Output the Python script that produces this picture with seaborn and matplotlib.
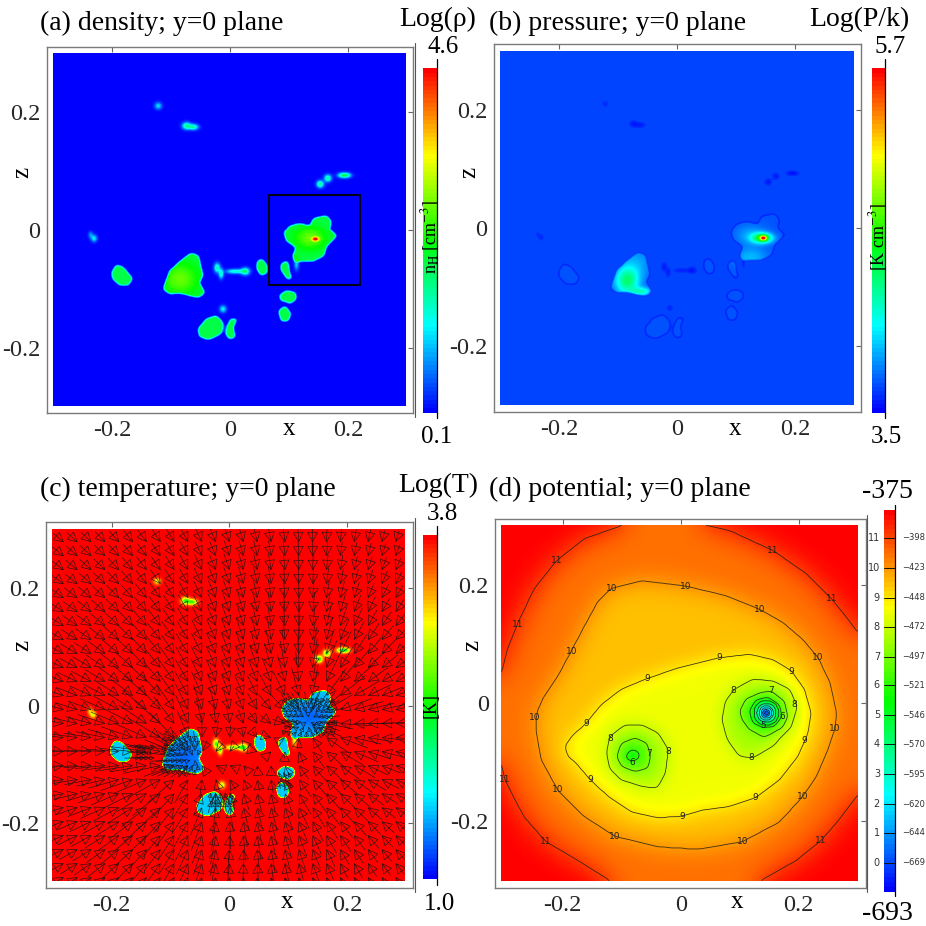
import numpy as np
import matplotlib
matplotlib.use("Agg")
import matplotlib.pyplot as plt
from matplotlib.colors import LinearSegmentedColormap
from matplotlib.lines import Line2D
from matplotlib.path import Path
from matplotlib.patches import Rectangle
import seaborn as sns

sns.set_theme(style="white")
plt.rcParams["font.family"] = ["Liberation Serif", "DejaVu Serif"]
plt.rcParams["mathtext.fontset"] = "stix"

# cloud outlines, (x, z)
main_cloud = [(.092,-.006),(.101,.006),(.118,.011),(.138,.006),(.144,.020),(.166,.024),(.174,.014),(.170,0),
              (.183,-.011),(.166,-.028),(.161,-.045),(.144,-.054),(.121,-.054),(.110,-.057),(.107,-.045),(.113,-.031),(.096,-.020)]
big_cloud = [(-.111,-.096),(-.102,-.071),(-.083,-.054),(-.066,-.041),(-.054,-.045),(-.049,-.068),(-.046,-.079),
             (-.053,-.091),(-.043,-.108),(-.052,-.116),(-.068,-.113),(-.085,-.108),(-.102,-.110),(-.114,-.102)]
left_oval = [(-.201,-.074),(-.193,-.061),(-.182,-.065),(-.166,-.084),(-.173,-.096),(-.187,-.096),(-.199,-.085)]
bottom_cloud = [(-.054,-.170),(-.040,-.153),(-.023,-.147),(-.011,-.161),(-.015,-.178),(-.037,-.188),(-.052,-.182)]
bottom_small = [(-.005,-.167),(.001,-.153),(.012,-.152),(.005,-.167),(.009,-.184),(-.001,-.187),(-.007,-.178)]
mid_a = [(.046,-.057),(.053,-.050),(.063,-.062),(.062,-.076),(.052,-.078),(.046,-.068)]
mid_b = [(.087,-.059),(.098,-.054),(.101,-.074),(.106,-.086),(.097,-.084),(.087,-.069)]
low_a = [(.084,-.113),(.096,-.105),(.111,-.108),(.113,-.119),(.101,-.127),(.096,-.122),(.087,-.122)]
low_b = [(.083,-.139),(.093,-.131),(.104,-.144),(.098,-.157),(.087,-.156)]
clouds = [main_cloud, big_cloud, left_oval, bottom_cloud, bottom_small, mid_a, mid_b, low_a, low_b]

# small knots: x, z, width x, width z, height
knots = [(-.122,.211,.0042,.0042,.22),(-.074,.177,.005,.0042,.36),(-.062,.175,.0056,.0035,.34),
         (-.237,-.010,.0028,.0042,.14),(-.231,-.016,.0035,.0042,.24),(-.022,-.066,.0035,.0056,.34),(-.015,-.076,.0028,.0056,.32),
         (.002,-.072,.007,.0028,.2),(.014,-.072,.007,.0028,.22),(.026,-.072,.005,.0042,.38),(-.012,-.136,.0039,.0042,.25),
         (.155,.078,.0042,.0042,.38),(.168,.088,.0042,.0042,.36),(.192,.093,.0056,.0031,.28),(.2,.093,.0056,.0031,.3),(.113,-.06,.0028,.007,.2)]

# density and pressure peaks: x, z, width x, width z, height
density_peaks = [(.147,-.017,.004,.0025,.5),(.137,-.015,.02,.014,.17),(-.085,-.085,.022,.02,.17)]
pressure_peaks = [(.147,-.017,.004,.003,.55),(.145,-.017,.012,.006,.4),(.125,-.012,.018,.012,.08),(.125,-.05,.02,.012,.1),
                  (-.085,-.09,.014,.016,.3),(-.06,-.108,.012,.005,.2),(-.07,-.06,.02,.02,.08)]
cold_cores = [(.14,-.02,.03,.02,.1),(-.075,-.09,.03,.025,.1)]

# potential contours
level_11 = [(-.302,.042),(-.290,.090),(-.273,.133),(-.245,.192),(-.207,.240),(-.160,.277),(-.092,.301),(-.03,.314),(.037,.301),
            (.083,.291),(.157,.257),(.213,.218),(.255,.176),(.281,.144),(.301,.117),(.332,-.017),(.301,-.153),(.270,-.195),
            (.238,-.232),(.196,-.266),(.134,-.301),(.010,-.322),(-.115,-.301),(-.171,-.266),(-.225,-.234),(-.262,-.192),
            (-.294,-.130),(-.302,-.093),(-.315,-.023)]
level_10 = [(-.240,-.014),(-.228,.011),(-.205,.045),(-.182,.088),(-.160,.130),(-.137,.172),(-.115,.193),(-.064,.206),(.010,.197),
            (.077,.181),(.134,.158),(.173,.136),(.207,.107),(.233,.076),(.253,.034),(.264,-.017),(.261,-.045),(.247,-.085),
            (.230,-.124),(.207,-.158),(.168,-.201),(.106,-.234),(.032,-.247),(-.036,-.243),(-.109,-.225),(-.160,-.192),
            (-.205,-.147),(-.233,-.096),(-.242,-.045)]
level_9 = [(-.193,-.073),(-.182,-.057),(-.157,-.034),(-.132,-.003),(-.098,.023),(-.055,.041),(-.002,.059),(.066,.076),(.117,.082),
           (.157,.073),(.188,.054),(.210,.023),(.221,-.017),(.216,-.051),(.199,-.090),(.168,-.130),(.128,-.160),(.083,-.175),
           (.038,-.181),(.004,-.191),(-.036,-.194),(-.081,-.184),(-.120,-.158),(-.151,-.129),(-.174,-.102),(-.188,-.090)]
level_8_right = [(.071,-.028),(.077,.003),(.092,.023),(.123,.040),(.157,.037),(.185,.023),(.198,-.006),(.188,-.040),(.157,-.073),
                 (.123,-.093),(.100,-.090),(.080,-.062)]
level_7_right = [(.101,-.014),(.111,.006),(.134,.017),(.154,.020),(.176,.003),(.182,-.023),(.173,-.042),(.142,-.058),(.117,-.045),(.105,-.028)]
level_6_right = [(.117,-.014),(.128,.005),(.148,.010),(.168,-.003),(.172,-.024),(.159,-.040),(.140,-.042),(.123,-.034)]
level_8_left = [(-.123,-.085),(-.118,-.057),(-.092,-.037),(-.064,-.037),(-.036,-.051),(-.019,-.079),(-.024,-.119),(-.038,-.144),
                (-.064,-.141),(-.098,-.130),(-.118,-.110)]
level_7_left = [(-.106,-.090),(-.098,-.068),(-.075,-.059),(-.055,-.068),(-.049,-.090),(-.053,-.110),(-.075,-.116),(-.098,-.107)]
level_6_left = [(-.091,-.088),(-.081,-.078),(-.069,-.082),(-.067,-.093),(-.078,-.099),(-.088,-.096)]
well_center = (.146, -.017)
ring_radii = [.021, .016, .012, .009, .006, .003]
ring_levels = [5, 4, 3, 2, 1, 0]

contour_labels = {
    "11": [(-.207,.240),(-.273,.133),(.157,.257),(.255,.176),(-.294,-.130),(-.225,-.234),(.238,-.232)],
    "10": [(-.115,.193),(.011,.197),(.134,.158),(-.182,.087),(.232,.077),(-.243,-.024),(.261,-.044),(-.205,-.146),(-.109,-.225),(.106,-.234),(.207,-.158)],
    "9": [(.067,.076),(-.055,.041),(.188,.053),(-.157,-.034),(.210,-.063),(-.151,-.129),(.128,-.160),(.005,-.191)],
    "8": [(.091,.020),(.193,-.003),(.121,-.092),(-.116,-.060),(-.019,-.082)],
    "7": [(.154,.020),(-.051,-.086)],
    "6": [(.172,-.023),(-.080,-.100)],
    "5": [(.141,-.038)],
}

bar_levels = [11, 10, 9, 8, 7, 6, 5, 4, 3, 2, 1, 0]
bar_values = [-398, -423, -448, -472, -497, -521, -546, -570, -595, -620, -644, -669]
pot_min, pot_max = -693, -375

# infall attractors: x, z, strength
attractors = [(.146,-.017,1.0),(-.075,-.09,1.0),(-.02,-.165,.3),(.095,-.125,.25),(-.165,-.08,.12)]
# boxes where the arrows crowd together in panel (c): x0, x1, z0, z1
crowded = [(.10,.175,-.045,.005),(-.105,-.05,-.11,-.06),(-.15,-.125,-.09,-.07),(-.03,.01,-.165,-.145),(.085,.105,-.13,-.11)]

tick_values = [-0.2, 0, 0.2]
tick_labels = ["-0.2", "0", "0.2"]

cmap = LinearSegmentedColormap.from_list("rb", ["#0000ff", "#00ffff", "#00ff00", "#ffff00", "#ff0000"], N=80)
cmap_fine = LinearSegmentedColormap.from_list("rbf", ["#0000ff", "#00ffff", "#00ff00", "#ffff00", "#ff0000"], N=512)

N = 354
xs = np.linspace(-.3, .3, N)
zs = np.linspace(.3, -.3, N)
X, Z = np.meshgrid(xs, zs)
cell = .6 / (N - 1)
pts = np.column_stack([X.ravel(), Z.ravel()])


def mask_of(poly):
    return Path(poly + [poly[0]]).contains_points(pts).reshape(X.shape).astype(float)


def blur(a, sigma):
    s = sigma / cell
    r = int(3 * s) + 1
    k = np.exp(-.5 * (np.arange(-r, r + 1) / s) ** 2)
    k /= k.sum()
    p = np.pad(a, r, mode="edge")
    p = np.array([np.convolve(row, k, mode="same") for row in p])
    p = np.array([np.convolve(col, k, mode="same") for col in p.T]).T
    return p[r:-r, r:-r]


def bumps(items):
    out = np.zeros(X.shape)
    for x0, z0, sx, sz, h in items:
        out += h * np.exp(-.5 * (((X - x0) / sx) ** 2 + ((Z - z0) / sz) ** 2))
    return out


def frac(level):
    return (-669 + 24.65 * level - pot_min) / (pot_max - pot_min)


cloud_mask = np.clip(sum(mask_of(c) for c in clouds), 0, 1)
rounded = blur(cloud_mask, .0035)
soft = np.clip((rounded - .22) / .45, 0, 1)
sharp = np.clip((rounded - .22) / .35, 0, 1)
small = bumps(knots)

density = np.clip(.43 * soft + small + bumps(density_peaks) * soft, 0, 1)
ring = 4 * soft * (1 - soft)
pressure = np.clip(.067 - .035 * ring + .015 * soft - .12 * small * (small > .1) + bumps(pressure_peaks) * soft, 0, 1)
temperature = np.clip(1 - .8 * np.clip(sharp + 1.6 * small, 0, 1) - bumps(cold_cores) * sharp, 0, 1)

levels_poly = [(level_11, 10.5, .024), (level_10, 9.5, .02), (level_9, 8.5, .016), (level_8_right, 7.5, .014),
               (level_8_left, 7.5, .014), (level_7_right, 6.5, .009), (level_7_left, 6.5, .009),
               (level_6_right, 5.5, .006), (level_6_left, 5.5, .006)]
parents = [1.0, frac(10.5), frac(9.5), frac(8.5), frac(8.5), frac(7.5), frac(7.5), frac(6.5), frac(6.5)]
potential = np.ones(X.shape)
line_masks = []
for (poly, lev, sg), parent in zip(levels_poly, parents):
    m = mask_of(poly)
    potential += (frac(lev) - parent) * blur(m, sg)
    line_masks.append(blur(m, .004))
rr = np.hypot(X - well_center[0], Z - well_center[1])
parent = frac(5.5)
for r, lev in zip(ring_radii, ring_levels):
    m = (rr < r).astype(float)
    potential += (frac(lev - .5 if lev else 0) - parent) * blur(m, .0015)
    parent = frac(lev - .5 if lev else 0)
    line_masks.append(blur(m, .0012))
potential = np.clip(potential, 0, 1)

fig = plt.figure(figsize=(9.26, 9.26), dpi=100)


def px_axes(l, t, r, b):
    return fig.add_axes([l / 926, 1 - b / 926, (r - l) / 926, (b - t) / 926])


def label(x, y, s, size=18, ha="left", **kw):
    fig.text(x / 926, 1 - y / 926, s, fontsize=size, ha=ha, va="baseline", color="black", **kw)


def panel(field, frame, heat, origin):
    fr = px_axes(*frame)
    x0, z0, scale = origin
    fr.set_xlim((frame[0] - x0) / scale, (frame[2] - x0) / scale)
    fr.set_ylim((z0 - frame[3]) / scale, (z0 - frame[1]) / scale)
    fr.set_xticks(tick_values, tick_labels)
    fr.set_yticks(tick_values, tick_labels)
    fr.tick_params(direction="in", length=3.5, width=.8, color="#666666", top=True, right=True, labelsize=17.5)
    fr.tick_params(axis="x", pad=5)
    fr.tick_params(axis="y", pad=4.5)
    for s in fr.spines.values():
        s.set_color("#7a7a7a")
        s.set_linewidth(1.0)
    hm = px_axes(*heat)
    sns.heatmap(field, ax=hm, cmap=cmap_fine, vmin=0, vmax=1, cbar=False, xticklabels=False, yticklabels=False)
    over = px_axes(*heat)
    over.set_xlim(-.3, .3)
    over.set_ylim(-.3, .3)
    over.axis("off")
    return over


def colorbar(box, line_top, line_bot):
    ax = px_axes(*box)
    sns.heatmap(np.linspace(1, 0, 160)[:, None], ax=ax, cmap=cmap, vmin=0, vmax=1, cbar=False, xticklabels=False, yticklabels=False)
    fig.add_artist(Line2D([box[2] / 926] * 2, [1 - line_top / 926, 1 - line_bot / 926], color="black", lw=.9))
    return ax


def infall_arrow(ax, x_head, z_head, scale, stretch=1.0):
    vx, vz = .006, 0.0
    for ax_, az_, m in attractors:
        dx, dz = ax_ - x_head, az_ - z_head
        r2 = dx * dx + dz * dz + .002
        vx += .0036 * m * dx / r2
        vz += .0036 * m * dz / r2
    size = np.hypot(vx, vz)
    if size > .08:
        vx, vz = vx * .08 / size, vz * .08 / size
    ann = ax.annotate("", xy=(x_head, z_head), xytext=(x_head - stretch * vx, z_head - stretch * vz),
                      arrowprops=dict(arrowstyle="-|>,head_length=0.6,head_width=0.32", fc="none", ec="#151515",
                                      lw=.42, mutation_scale=scale, shrinkA=0, shrinkB=0))
    ann.arrow_patch.set_clip_box(ax.bbox)


# (a)
a = panel(density, (46.7, 46.7, 413.3, 413.3), (53, 53, 406.3, 406), (230.3, 230, 589))
a.add_patch(Rectangle((.067, -.095), .154, .153, fill=False, ec="black", lw=1.3))
colorbar((423.3, 68.3, 436.7, 412.7), 59, 418)
fig.add_artist(Line2D([415.3 / 926] * 2, [1 - 43 / 926, 1 - 417 / 926], color="#555555", lw=.8))
label(40, 30, "(a) density; y=0 plane", 20)
label(399.3, 26, "Log(ρ)", 20)
label(442.7, 52.7, "4.6", 18, "center")
label(437, 442.7, "0.1", 18, "center")
label(289, 435, "x", 18, "center")
label(28, 172, "z", 18, "center", rotation=90, rotation_mode="anchor")
label(436, 237, r"n$_{\mathrm{H}}$ [cm$^{-3}$]", 13, "center", rotation=90, rotation_mode="anchor")

# (b)
panel(pressure, (493.7, 44.3, 861.3, 412.3), (500, 51, 854, 405), (677.3, 228.3, 590))
colorbar((871.7, 68.3, 884.7, 412.7), 59, 418)
label(489, 30, "(b) pressure; y=0 plane", 20)
label(809.7, 26, "Log(P/k)", 20)
label(890, 52.7, "5.7", 18, "center")
label(886, 442.7, "3.5", 18, "center")
label(735.5, 435, "x", 18, "center")
label(475, 172, "z", 18, "center", rotation=90, rotation_mode="anchor")
label(884, 237, r"[K cm$^{-3}$]", 13, "center", rotation=90, rotation_mode="anchor")

# (c)
c = panel(temperature, (45.7, 522, 412.7, 888.3), (52, 528.7, 405, 881.3), (229.3, 705.7, 588))
colorbar((423.3, 535.3, 436.7, 879.3), 526, 885)
fig.add_artist(Line2D([414.5 / 926] * 2, [1 - 518 / 926, 1 - 892 / 926], color="#555555", lw=.8))
for z_head in np.linspace(.277, -.293, 25):
    for x_head in np.linspace(-.28, .284, 25):
        infall_arrow(c, x_head, z_head, 11)
for x0, x1, z0, z1 in crowded:
    for row, z_head in enumerate(np.arange(z0, z1, .008)):
        for x_head in np.arange(x0 + .004 * (row % 2), x1, .008):
            infall_arrow(c, x_head, z_head, 5, .45)
label(40, 496, "(c) temperature; y=0 plane", 20)
label(398, 492, "Log(T)", 20)
label(442.7, 520, "3.8", 18, "center")
label(439, 909.7, "1.0", 18, "center")
label(286.7, 908, "x", 18, "center")
label(28, 645, "z", 18, "center", rotation=90, rotation_mode="anchor")
label(436, 705, "[K]", 13, "center", rotation=90, rotation_mode="anchor")

# (d)
d = panel(potential, (495, 518.7, 866.3, 888), (501.3, 525, 858, 880.7), (680.7, 703, 590))
for m in line_masks:
    d.contour(xs, zs, m, levels=[.5], colors="#1c1c1c", linewidths=.6, alpha=.85)
for lev, spots in contour_labels.items():
    for x_, z_ in spots:
        d.text(x_, z_, lev, fontsize=6.5, ha="center", va="center", color="#222222", family="DejaVu Sans")
bar = colorbar((883.7, 510.3, 895, 891.7), 505, 896)
bar_h = 891.7 - 510.3
for lev, val in zip(bar_levels, bar_values):
    y = 891.7 - (val - pot_min) / (pot_max - pot_min) * bar_h
    fig.add_artist(Line2D([883.7 / 926, 895 / 926], [1 - y / 926] * 2, color="#111111", lw=.7))
    fig.text(880 / 926, 1 - y / 926, str(lev), fontsize=7, ha="right", va="center", family="DejaVu Sans", color="#333333")
    fig.text(902 / 926, 1 - y / 926, "\u2212" + str(-val), fontsize=6, ha="left", va="center", family="DejaVu Sans", color="#333333")
fig.add_artist(Line2D([866.8 / 926] * 2, [1 - 515 / 926, 1 - 892 / 926], color="#555555", lw=.8))
label(489, 496, "(d) potential; y=0 plane", 20)
label(887, 498, "-375", 20, "center")
label(887, 920, "-693", 20, "center")
label(737, 908, "x", 18, "center")
label(478, 645, "z", 18, "center", rotation=90, rotation_mode="anchor")

fig.savefig("out.png", dpi=100)
